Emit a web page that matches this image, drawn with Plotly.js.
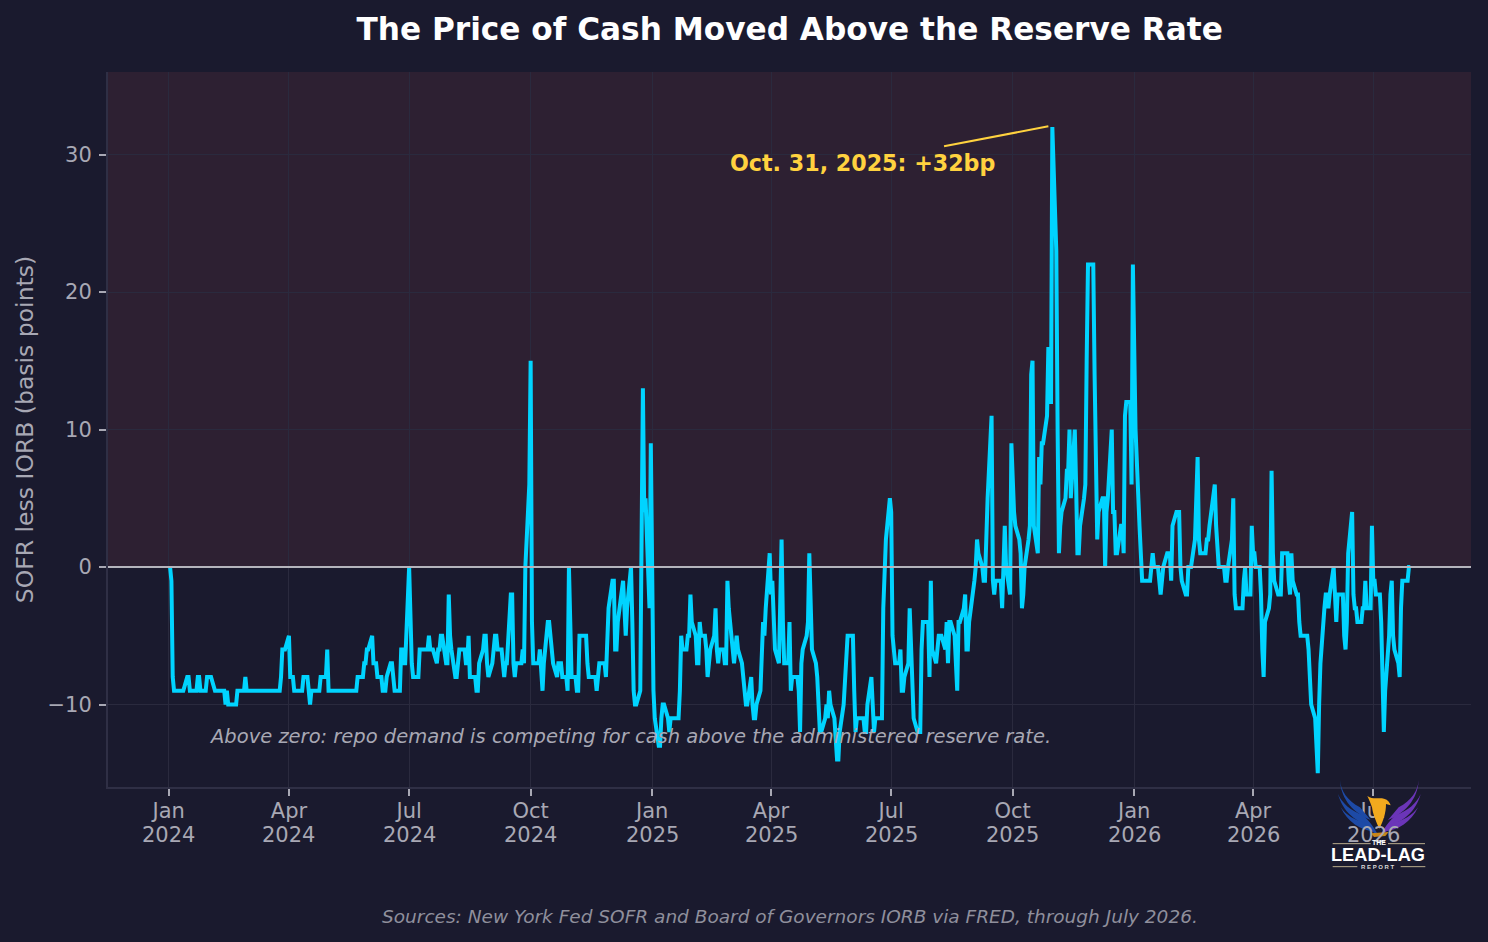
<!DOCTYPE html>
<html>
<head>
<meta charset="utf-8">
<script src="https://cdn.plot.ly/plotly-3.0.1.min.js"></script>
<style>
  html, body { margin: 0; padding: 0; background: #1a1a2e; }
  #chart { width: 1488px; height: 942px; }
</style>
</head>
<body>
<div id="chart"></div>
<script>
// SOFR less IORB, basis points, one list per quarter
var q1_2024 = [
    0, -1, -8, -9, -9, -9, -9, -9, -9, -8, -8, -9, -9, -9, -9, -8, -8, -9, -9, -9, -8, -8,
    -8, -8, -9, -9, -9, -9, -9, -9, -10, -9, -10, -10, -10, -10, -10, -9, -9, -9, -9, -8, -9,
    -9, -9, -9, -9, -9, -9, -9, -9, -9, -9, -9, -9, -9, -9, -9, -9, -9, -8, -6, -6, -6
];
var q2_2024 = [
    -5, -8, -8, -8, -9, -9, -9, -9, -9, -8, -8, -9, -10, -9, -9, -9, -9, -9, -8, -8, -8, -6,
    -9, -9, -9, -9, -9, -9, -9, -9, -9, -9, -9, -9, -9, -9, -9, -9, -8, -8, -8, -7, -7, -6, -6,
    -5, -7, -7, -7, -8, -8, -9, -9, -9, -8, -7, -7, -8, -9, -9, -9, -6, -6, -7, -7
];
var q3_2024 = [
    0, -4, -7, -8, -8, -8, -6, -6, -6, -6, -6, -5, -6, -6, -6, -7, -6, -6, -5, -5, -7, -7, -2,
    -5, -6, -8, -8, -7, -6, -6, -6, -7, -7, -5, -8, -8, -8, -9, -9, -7, -6, -5, -5, -7, -8,
    -7, -6, -5, -5, -6, -6, -7, -8, -7, -7, -2, -2, -7, -8, -7, -7, -7, -6, -7, 0, 6
];
var q4_2024 = [
    15, -4, -7, -7, -7, -6, -8, -9, -7, -4, -4, -5, -6, -7, -8, -7, -7, -7, -8, -8, -9, 0, -4,
    -8, -8, -9, -9, -5, -5, -5, -5, -7, -8, -8, -8, -8, -9, -8, -7, -7, -7, -8,
    -6, -3, -1, -1, -6, -6, -4, -2, -1, -3, -5, -3, 0, -4, -9, -10, -10, -9, 0, 13, 4, 5, -3, 9
];
var q1_2025 = [
    -9, -11, -13, -13, -11, -10, -10, -11, -12, -11, -11, -11, -11, -11, -9, -5, -6, -6, -5, -5, -2, -4,
    -5, -7, -7, -4, -5, -5, -6, -8, -7, -6, -5, -3, -6, -7, -6, -6, -7, -7, -1, -3,
    -6, -7, -6, -5, -6, -7, -8, -9, -10, -10, -8, -10, -11, -11, -10, -9, -7, -4, -5, -3, 1
];
var q2_2025 = [
    -2, -1, -4, -6, -7, -3, 2, -4, -7, -7, -4, -9, -8, -8, -8, -9, -12, -7, -6, -5, -4, 1,
    -4, -6, -7, -8, -10, -12, -12, -11, -10, -11, -9, -10, -11, -13, -14, -14, -12, -10, -8, -7, -5, -5,
    -5, -9, -12, -11, -11, -11, -11, -12, -12, -10, -8, -10, -12, -11, -11, -11, -11, -3, -1, 2, 5
];
var q3_2025 = [
    4, -5, -6, -7, -7, -6, -9, -9, -8, -7, -3, -6, -10, -11, -12, -12, -12, -6, -4, -4, -4, -8, -1,
    -6, -7, -6, -5, -5, -5, -6, -4, -7, -4, -4, -5, -7, -9, -4, -4, -3, -2,
    -6, -6, -4, -2, -1, 0, 2, 1, 0, -1, -1, 2, 5, 11, -1, -2, -1, -1, -1, -3, 1, 3, 0, -2, 9
];
var q4_2025 = [
    5, 4, 3, 2, 1, -3, -2, 0, 2, 3, 14, 15, 3, 1, 8, 6, 9, 9, 11, 16, 12, 12, 32,
    23, 10, 1, 3, 4, 5, 7, 7, 10, 5, 10, 6, 1, 1, 3, 5, 6, 15, 22,
    22, 22, 14, 7, 2, 4, 5, 5, 0, 4, 5, 10, 4, 4, 1, 1, 3, 3, 1, 11, 12, 12, 6, 22
];
var q1_2026 = [
    10, 3, 1, -1, -1, -1, -1, -1, 0, 1, 0, 0, -1, -2, -1, 0, 1, 1, 1, -1, 3,
    4, 4, 4, 0, -1, -2, -2, 0, 0, 0, 2, 5, 8, 2, 1, 1, 1, 2, 2, 3,
    5, 6, 3, 1, 0, 0, 0, -1, -1, 0, 2, 5, -2, -3, -3, -3, -3, -1, 0, -2, -2, 3
];
var q2_2026 = [
    1, 1, 0, 0, -2, -6, -8, -4, -3, -2, 7, 1, -1, -2, -2, -2, 1, 1, 1, -1, -2, 1,
    -1, -2, -2, -4, -5, -5, -5, -5, -6, -9, -10, -11, -13, -15, -10, -7, -3, -2, -2, -3, -2,
    0, -2, -4, -2, -2, -2, -5, -6, -4, 1, 4, -2, -3, -3, -4, -4, -3, -3, -1, -3, -3, 3
];
var q3_2026 = [-1, -1, -2, -2, -4, -9, -12, -9, -5, -2, -1, -5, -6, -7, -8, -3, -1, -1, -1, 0, 0];

var quarterValues = [q1_2024, q2_2024, q3_2024, q4_2024, q1_2025, q2_2025, q3_2025, q4_2025, q1_2026, q2_2026, q3_2026];
var quarterStarts = ['2024-01-02', '2024-04-01', '2024-07-01', '2024-10-01', '2025-01-02', '2025-04-01',
                     '2025-07-01', '2025-10-01', '2026-01-02', '2026-04-01', '2026-07-01'];

var tickDates = ['2024-01-01', '2024-04-01', '2024-07-01', '2024-10-01', '2025-01-01', '2025-04-01',
                 '2025-07-01', '2025-10-01', '2026-01-01', '2026-04-01', '2026-07-01'];
var tickMonths = ['Jan', 'Apr', 'Jul', 'Oct', 'Jan', 'Apr', 'Jul', 'Oct', 'Jan', 'Apr', 'Jul'];
var tickYears = ['2024', '2024', '2024', '2024', '2025', '2025', '2025', '2025', '2026', '2026', '2026'];

// walks the weekdays of a quarter, one date per value
function weekdays(start, n) {
    var d = new Date(start + 'T00:00:00Z');
    var out = [];
    while (out.length < n) {
        if (d.getUTCDay() !== 0 && d.getUTCDay() !== 6) out.push(d.toISOString().slice(0, 10));
        d.setUTCDate(d.getUTCDate() + 1);
    }
    return out;
}

var dates = [];
var spread = [];
quarterValues.forEach(function (vals, i) {
    dates = dates.concat(weekdays(quarterStarts[i], vals.length));
    spread = spread.concat(vals);
});

var trace = {
    x: dates,
    y: spread,
    type: 'scatter',
    mode: 'lines',
    line: { color: '#00d4ff', width: 4 },
    hoverinfo: 'x+y'
};

// logo artwork only, its words are annotations below
var feathers = [
    'M90,30 C92,62 112,92 150,112 L182,150 C135,132 92,90 90,30Z',
    'M84,72 C96,100 122,122 160,136 L186,168 C140,160 98,125 84,72Z',
    'M92,112 C108,136 136,152 170,160 L194,184 C152,182 112,156 92,112Z',
    'M152,128 C170,146 190,165 206,198 C182,184 160,160 152,128Z'
];
var blue = feathers.map(function (p) { return '<path d="' + p + '" fill="#1d4aa6"/>'; }).join('');
var logoSvg = '<svg xmlns="http://www.w3.org/2000/svg" width="390" height="330" viewBox="0 0 390 330">' +
    blue +
    '<g transform="translate(416,0) scale(-1,1)">' + blue.replace(/#1d4aa6/g, '#6b35b8') + '</g>' +
    '<path d="M172,78 C190,90 205,82 222,86 C234,89 240,98 242,106 L228,102 C228,128 220,152 208,176 C198,155 188,130 186,112 C182,100 178,90 172,78Z" fill="#f2a91e"/>' +
    '<path d="M182,190 L236,186 L226,198 L192,201Z" fill="#c9861a"/>' +
    '<path d="M68,221 H182 M234,221 H345 M68,290 H142 M272,290 H346" stroke="#b9ad8c" stroke-width="3"/>' +
    '</svg>';

var yearLabels = tickDates.map(function (d, i) {
    return { text: tickYears[i], x: d, y: (787 - 835) / 715, xref: 'x', yref: 'paper', showarrow: false,
             xanchor: 'center', yanchor: 'middle', font: { size: 21, color: '#a8a8b4' } };
});

var layout = {
    width: 1488,
    height: 942,
    paper_bgcolor: '#1a1a2e',
    plot_bgcolor: '#1a1a2e',
    margin: { l: 108, r: 17, t: 72, b: 155, pad: 0 },
    showlegend: false,
    font: { family: 'DejaVu Sans', color: '#a8a8b4', size: 21 },
    title: {
        text: '<b>The Price of Cash Moved Above the Reserve Rate</b>',
        font: { family: 'DejaVu Sans', size: 31.2, color: '#ffffff' },
        x: 0.5307, xanchor: 'center', y: 0.969, yanchor: 'middle'
    },
    xaxis: {
        type: 'date',
        range: ['2023-11-16', '2026-09-13'],
        tickmode: 'array',
        tickvals: tickDates,
        ticktext: tickMonths,
        tickangle: 0,
        ticks: 'outside', ticklen: 7, tickwidth: 2, tickcolor: '#a8a8b4',
        ticklabelstandoff: -3,
        gridcolor: '#2a2a3e', gridwidth: 1,
        showline: true, linecolor: '#2f2f45', linewidth: 2,
        zeroline: false
    },
    yaxis: {
        range: [-16, 36],
        tickvals: [-10, 0, 10, 20, 30],
        ticks: 'outside', ticklen: 7, tickwidth: 2, tickcolor: '#a8a8b4',
        ticklabelstandoff: 3,
        gridcolor: '#2a2a3e', gridwidth: 1,
        showline: true, linecolor: '#2f2f45', linewidth: 2,
        zeroline: false,
        title: { text: 'SOFR less IORB (basis points)', font: { size: 23.5, color: '#a8a8b4' }, standoff: 7 }
    },
    shapes: [
        { type: 'rect', xref: 'paper', yref: 'y', x0: 0, x1: 1, y0: 0, y1: 36, fillcolor: '#2d2032', line: { width: 0 }, layer: 'below' },
        { type: 'line', xref: 'paper', yref: 'y', x0: 0, x1: 1, y0: 0, y1: 0, line: { color: '#b4b4bc', width: 2 }, layer: 'above' },
        { type: 'line', xref: 'x', yref: 'y', x0: '2025-08-10', x1: '2025-10-28', y0: 30.6, y1: 32.05, line: { color: '#ffd23f', width: 2 } }
    ],
    images: [{
        source: 'data:image/svg+xml;utf8,' + encodeURIComponent(logoSvg),
        xref: 'paper', yref: 'paper',
        x: (1310 - 108) / 1363, y: (787 - 770) / 715,
        sizex: 130 / 1363, sizey: 110 / 715,
        xanchor: 'left', yanchor: 'top',
        sizing: 'stretch', layer: 'above'
    }],
    annotations: yearLabels.concat([
        { text: '<b>Oct. 31, 2025: +32bp</b>', x: '2025-06-09', y: 29.4, xref: 'x', yref: 'y', showarrow: false,
          xanchor: 'center', yanchor: 'middle', font: { size: 22.2, color: '#ffd23f' } },
        { text: '<i>Above zero: repo demand is competing for cash above the administered reserve rate.</i>',
          x: '2024-01-30', y: -12.3, xref: 'x', yref: 'y', showarrow: false, xanchor: 'left', yanchor: 'middle',
          font: { size: 19.5, color: '#a8a8b4' } },
        { text: '<i>Sources: New York Fed SOFR and Board of Governors IORB via FRED, through July 2026.</i>',
          x: 0.5, y: (787 - 916) / 715, xref: 'paper', yref: 'paper', showarrow: false, xanchor: 'center', yanchor: 'middle',
          font: { size: 18.5, color: '#8f8f9c' } },
        { text: '<b>THE</b>', x: (1379 - 108) / 1363, y: (787 - 842) / 715, xref: 'paper', yref: 'paper', showarrow: false,
          xanchor: 'center', yanchor: 'middle', font: { family: 'Liberation Sans', size: 7, color: '#ffffff' } },
        { text: '<b>LEAD-LAG</b>', x: (1378 - 108) / 1363, y: (787 - 855) / 715, xref: 'paper', yref: 'paper', showarrow: false,
          xanchor: 'center', yanchor: 'middle', font: { family: 'Liberation Sans', size: 18.2, color: '#ffffff' } },
        { text: '<b>R E P O R T</b>', x: (1378 - 108) / 1363, y: (787 - 867) / 715, xref: 'paper', yref: 'paper', showarrow: false,
          xanchor: 'center', yanchor: 'middle', font: { family: 'Liberation Sans', size: 6, color: '#d8d8d8' } }
    ])
};

Plotly.newPlot('chart', [trace], layout, { displayModeBar: false });
</script>
</body>
</html>
